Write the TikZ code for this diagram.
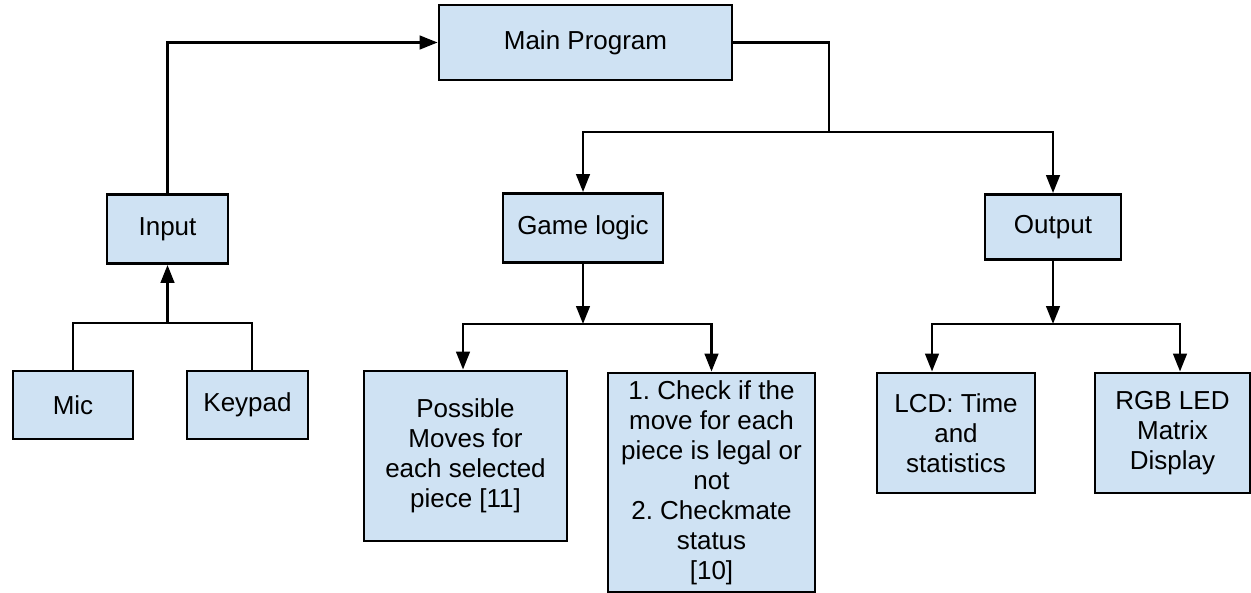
\documentclass[tikz,border=0pt]{standalone}
\usepackage{fontspec}
\setmainfont{Liberation Sans}
\usetikzlibrary{arrows.meta}
\definecolor{boxblue}{HTML}{CFE2F3}
\frenchspacing

\begin{document}
\begin{tikzpicture}[
    x=0.02cm, y=-0.02cm,
    bx/.style={draw, fill=boxblue, line width=1.6pt, align=center, inner sep=0pt,
               font=\fontsize{14.8}{17.1}\selectfont},
    ln/.style={line width=1.6pt},
    ar/.style={line width=1.6pt, -{Triangle[length=0.36cm, width=0.27cm]}}
  ]
  \useasboundingbox (0,0) rectangle (1251,592);

  \node[bx, minimum width=5.86cm, minimum height=1.5cm]  (main)   at (585.5, 42.5) {Main Program};
  \node[bx, minimum width=2.42cm, minimum height=1.38cm] (input)  at (167.5, 229)  {Input};
  \node[bx, minimum width=3.2cm,  minimum height=1.38cm] (game)   at (583, 228)    {Game logic};
  \node[bx, minimum width=2.72cm, minimum height=1.3cm]  (output) at (1053, 227)   {Output};

  \node[bx, minimum width=2.4cm,  minimum height=1.36cm] (mic)    at (73, 405)     {Mic};
  \node[bx, minimum width=2.42cm, minimum height=1.36cm] (keypad) at (247.5, 405)  {Keypad};
  \node[bx, minimum width=4.06cm, minimum height=3.4cm]  (moves)  at (465.5, 456)
    {Possible\\Moves for\\each selected\\piece [11]};
  \node[bx, minimum width=4.14cm, minimum height=4.38cm] (check)  at (711.5, 482.5)
    {1. Check if the\\move for each\\piece is legal or\\not\\2. Checkmate\\status\\{[10]}};
  \node[bx, minimum width=3.16cm, minimum height=2.4cm]  (lcd)    at (956, 433)
    {LCD: Time\\and\\statistics};
  \node[bx, minimum width=3.1cm,  minimum height=2.4cm]  (rgb)    at (1172.5, 433)
    {RGB LED\\Matrix\\Display};

  \coordinate (mainsplit) at (829, 132);
  \coordinate (injoin)    at (167.5, 323);
  \coordinate (gamejoin)  at (583, 324);
  \coordinate (outjoin)   at (1053, 324);

  % input side
  \draw[ar] (input.north) |- (main.west);
  \draw[ln] (mic.north) |- (injoin) -| ([xshift=0.09cm]keypad.north);
  \draw[ar] (injoin) -- (input.south);

  % main program to logic and output
  \draw[ln] (main.east) -| (mainsplit);
  \draw[ar] (mainsplit) -| (game.north);
  \draw[ar] (mainsplit) -| (output.north);

  % game logic
  \draw[ar] (game.south) -- (gamejoin);
  \draw[ar] (gamejoin) -| ([xshift=-0.05cm]moves.north);
  \draw[ar] (gamejoin) -| (check.north);

  % output
  \draw[ar] (output.south) -- (outjoin);
  \draw[ar] (outjoin) -| ([xshift=-0.48cm]lcd.north);
  \draw[ar] (outjoin) -| ([xshift=0.15cm]rgb.north);
\end{tikzpicture}
\end{document}
